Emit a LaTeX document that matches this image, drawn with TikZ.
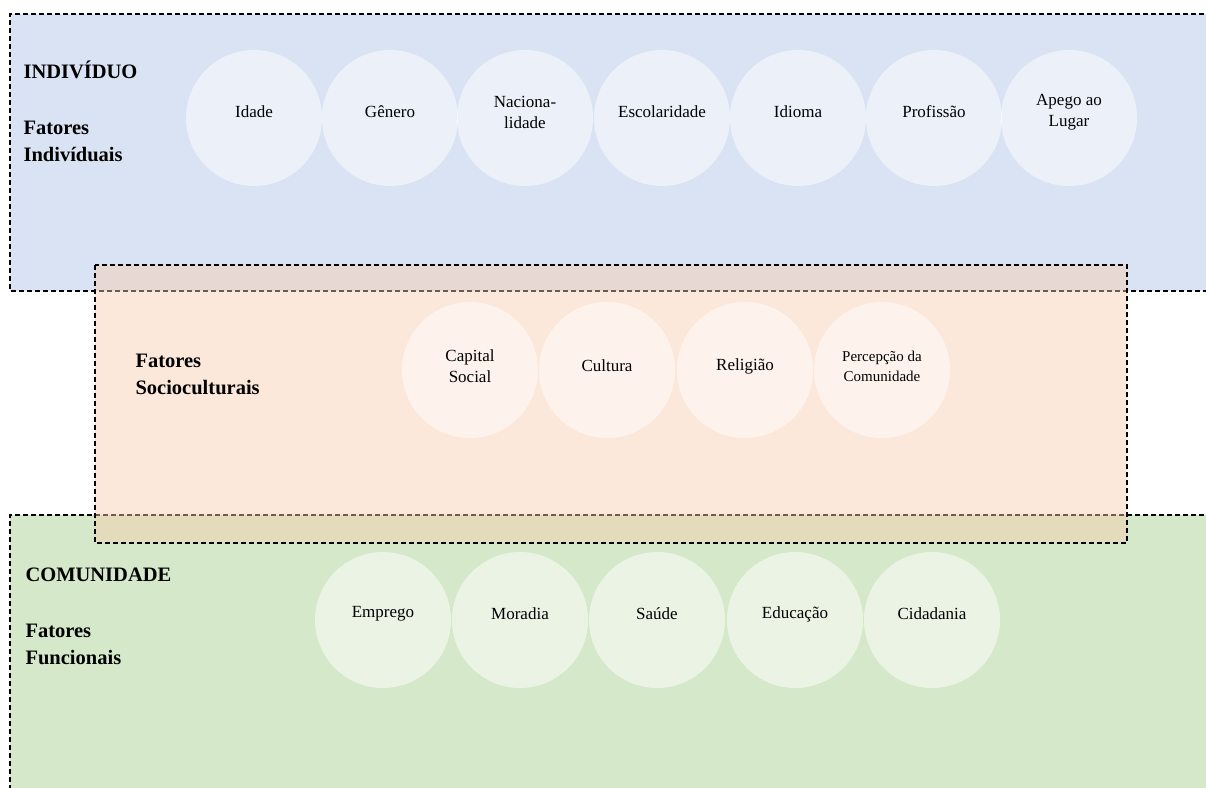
\documentclass[tikz,border=0pt]{standalone}
\usepackage{fontspec}
\setmainfont{Liberation Serif}
\begin{document}
\begin{tikzpicture}[x=1pt,y=-1pt,
  zone/.style={draw=black,line width=1.1pt,dash pattern=on 5pt off 3pt},
  bubble/.style={circle,fill=white,fill opacity=0.5,minimum size=136pt,inner sep=0pt},
  btext/.style={align=center,text opacity=1,fill opacity=1,font=\fontsize{17}{21}\selectfont},
  heading/.style={anchor=west,align=left,font=\bfseries\fontsize{20.5}{27}\selectfont}]
\useasboundingbox (0,0) rectangle (1206,787);
\clip (0,0) rectangle (1206,787);
\definecolor{zblue}{RGB}{218,227,243}
\definecolor{zgreen}{RGB}{213,232,201}
\definecolor{zorange}{RGB}{248,203,173}
% zones
\path[fill=zblue] (10,14) rectangle (1220,291);
\draw[zone] (1220,14) -- (10,14) -- (10,291) -- (1220,291);
\path[fill=zgreen] (10,515) rectangle (1220,800);
\draw[zone] (1220,515) -- (10,515) -- (10,800);
\path[fill=zorange,fill opacity=0.45] (95,265) rectangle (1127,543);
\draw[zone] (95,265) rectangle (1127,543);
% headings
\node[heading] (ind) at (20,70) {INDIVÍDUO};
\node[heading] (find) at (20,141) {Fatores\\Indivíduais};
\node[heading] (fsoc) at (132,374) {Fatores\\Socioculturais};
\node[heading] (com) at (22,575) {COMUNIDADE};
\node[heading] (ffun) at (22,644) {Fatores\\Funcionais};
% top row
\node[bubble,label={[btext,yshift=6pt]center:Idade}] (idade) at (254,118) {};
\node[bubble,label={[btext,yshift=6pt]center:Gênero}] (genero) at (390,118) {};
\node[bubble,label={[btext,yshift=6pt]center:Naciona-\\lidade}] (nac) at (525,118) {};
\node[bubble,label={[btext,yshift=6pt]center:Escolaridade}] (esc) at (662,118) {};
\node[bubble,label={[btext,yshift=6pt]center:Idioma}] (idioma) at (798,118) {};
\node[bubble,label={[btext,yshift=6pt]center:Profissão}] (prof) at (934,118) {};
\node[bubble,label={[btext,yshift=6pt]center:Apego ao\\Lugar}] (apego) at (1069,118) {};
% middle row
\node[bubble,label={[btext,yshift=4pt]center:Capital\\Social}] (capital) at (470,370) {};
\node[bubble,label={[btext,yshift=4pt]center:Cultura}] (cultura) at (607,370) {};
\node[bubble,label={[btext,yshift=4pt]center:Religião}] (religiao) at (745,370) {};
\node[bubble,label={[btext,yshift=4pt,font=\fontsize{15}{20}\selectfont]center:Percepção da\\Comunidade}] (percep) at (882,370) {};
% bottom row
\node[bubble,label={[btext,yshift=6pt]center:Emprego}] (emprego) at (383,620) {};
\node[bubble,label={[btext,yshift=6pt]center:Moradia}] (moradia) at (520,620) {};
\node[bubble,label={[btext,yshift=6pt]center:Saúde}] (saude) at (657,620) {};
\node[bubble,label={[btext,yshift=6pt]center:Educação}] (educ) at (795,620) {};
\node[bubble,label={[btext,yshift=6pt]center:Cidadania}] (cid) at (932,620) {};
\end{tikzpicture}
\end{document}
